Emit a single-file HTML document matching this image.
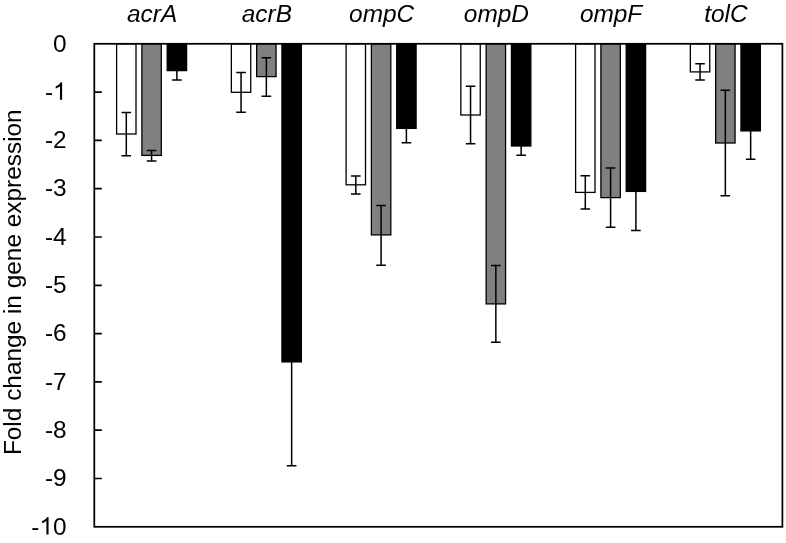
<!DOCTYPE html>
<html><head><meta charset="utf-8"><style>
html,body{margin:0;padding:0;background:#fff;}
svg{display:block;will-change:transform;}
text{font-family:"Liberation Sans",sans-serif;fill:#000;}
</style></head><body>
<svg width="786" height="543" viewBox="0 0 786 543">
<rect width="786" height="543" fill="#fff"/>
<rect x="116.60" y="43.80" width="19.40" height="90.20" fill="#ffffff" stroke="#000" stroke-width="1.3"/>
<rect x="141.90" y="43.80" width="19.40" height="111.60" fill="#808080" stroke="#000" stroke-width="1.3"/>
<rect x="167.20" y="43.80" width="19.40" height="26.80" fill="#000000" stroke="#000" stroke-width="1.3"/>
<rect x="231.35" y="43.80" width="19.40" height="48.50" fill="#ffffff" stroke="#000" stroke-width="1.3"/>
<rect x="256.65" y="43.80" width="19.40" height="32.80" fill="#808080" stroke="#000" stroke-width="1.3"/>
<rect x="281.95" y="43.80" width="19.40" height="318.10" fill="#000000" stroke="#000" stroke-width="1.3"/>
<rect x="346.10" y="43.80" width="19.40" height="141.00" fill="#ffffff" stroke="#000" stroke-width="1.3"/>
<rect x="371.40" y="43.80" width="19.40" height="191.10" fill="#808080" stroke="#000" stroke-width="1.3"/>
<rect x="396.70" y="43.80" width="19.40" height="84.60" fill="#000000" stroke="#000" stroke-width="1.3"/>
<rect x="460.85" y="43.80" width="19.40" height="71.20" fill="#ffffff" stroke="#000" stroke-width="1.3"/>
<rect x="486.15" y="43.80" width="19.40" height="260.10" fill="#808080" stroke="#000" stroke-width="1.3"/>
<rect x="511.45" y="43.80" width="19.40" height="102.20" fill="#000000" stroke="#000" stroke-width="1.3"/>
<rect x="575.60" y="43.80" width="19.40" height="148.60" fill="#ffffff" stroke="#000" stroke-width="1.3"/>
<rect x="600.90" y="43.80" width="19.40" height="153.80" fill="#808080" stroke="#000" stroke-width="1.3"/>
<rect x="626.20" y="43.80" width="19.40" height="147.60" fill="#000000" stroke="#000" stroke-width="1.3"/>
<rect x="690.35" y="43.80" width="19.40" height="28.10" fill="#ffffff" stroke="#000" stroke-width="1.3"/>
<rect x="715.65" y="43.80" width="19.40" height="99.20" fill="#808080" stroke="#000" stroke-width="1.3"/>
<rect x="740.95" y="43.80" width="19.40" height="87.10" fill="#000000" stroke="#000" stroke-width="1.3"/>
<path d="M126.30 112.60V155.80M121.50 112.60H131.10M121.50 155.80H131.10" stroke="#000" stroke-width="1.5" fill="none"/>
<path d="M151.60 150.60V160.90M146.80 150.60H156.40M146.80 160.90H156.40" stroke="#000" stroke-width="1.5" fill="none"/>
<path d="M176.90 61.30V79.90M172.10 61.30H181.70M172.10 79.90H181.70" stroke="#000" stroke-width="1.5" fill="none"/>
<path d="M241.05 72.56V112.20M236.25 72.56H245.85M236.25 112.20H245.85" stroke="#000" stroke-width="1.5" fill="none"/>
<path d="M266.35 57.70V96.20M261.55 57.70H271.15M261.55 96.20H271.15" stroke="#000" stroke-width="1.5" fill="none"/>
<path d="M291.65 257.95V465.85M286.85 257.95H296.45M286.85 465.85H296.45" stroke="#000" stroke-width="1.5" fill="none"/>
<path d="M355.80 175.95V194.05M351.00 175.95H360.60M351.00 194.05H360.60" stroke="#000" stroke-width="1.5" fill="none"/>
<path d="M381.10 205.60V265.30M376.30 205.60H385.90M376.30 265.30H385.90" stroke="#000" stroke-width="1.5" fill="none"/>
<path d="M406.40 113.95V142.85M401.60 113.95H411.20M401.60 142.85H411.20" stroke="#000" stroke-width="1.5" fill="none"/>
<path d="M470.55 86.30V143.70M465.75 86.30H475.35M465.75 143.70H475.35" stroke="#000" stroke-width="1.5" fill="none"/>
<path d="M495.85 265.60V342.20M491.05 265.60H500.65M491.05 342.20H500.65" stroke="#000" stroke-width="1.5" fill="none"/>
<path d="M521.15 136.80V155.20M516.35 136.80H525.95M516.35 155.20H525.95" stroke="#000" stroke-width="1.5" fill="none"/>
<path d="M585.30 175.85V208.95M580.50 175.85H590.10M580.50 208.95H590.10" stroke="#000" stroke-width="1.5" fill="none"/>
<path d="M610.60 167.90V227.30M605.80 167.90H615.40M605.80 227.30H615.40" stroke="#000" stroke-width="1.5" fill="none"/>
<path d="M635.90 152.30V230.50M631.10 152.30H640.70M631.10 230.50H640.70" stroke="#000" stroke-width="1.5" fill="none"/>
<path d="M700.05 63.85V79.95M695.25 63.85H704.85M695.25 79.95H704.85" stroke="#000" stroke-width="1.5" fill="none"/>
<path d="M725.35 90.20V195.75M720.55 90.20H730.15M720.55 195.75H730.15" stroke="#000" stroke-width="1.5" fill="none"/>
<path d="M750.65 102.50V159.30M745.85 102.50H755.45M745.85 159.30H755.45" stroke="#000" stroke-width="1.5" fill="none"/>
<rect x="94.3" y="43.8" width="688.10" height="483.00" fill="none" stroke="#000" stroke-width="1.75"/>
<path d="M94.30 92.10H101.80M94.30 140.40H101.80M94.30 188.70H101.80M94.30 237.00H101.80M94.30 285.30H101.80M94.30 333.60H101.80M94.30 381.90H101.80M94.30 430.20H101.80M94.30 478.50H101.80" stroke="#000" stroke-width="1.7" fill="none"/>
<text x="53.03" y="51.50" font-size="24.4">0</text>
<text x="44.90" y="99.80" font-size="24.4">-</text>
<path transform="translate(53.03,99.80) scale(0.011914,-0.011914)" d="M763 0H583V1147Q520 1088 440 1043Q350 986 223 938V1112Q420 1210 520 1300Q600 1370 646 1466H763Z"/>
<text x="44.90" y="148.10" font-size="24.4">-</text>
<text x="53.03" y="148.10" font-size="24.4">2</text>
<text x="44.90" y="196.40" font-size="24.4">-</text>
<text x="53.03" y="196.40" font-size="24.4">3</text>
<text x="44.90" y="244.70" font-size="24.4">-</text>
<text x="53.03" y="244.70" font-size="24.4">4</text>
<text x="44.90" y="293.00" font-size="24.4">-</text>
<text x="53.03" y="293.00" font-size="24.4">5</text>
<text x="44.90" y="341.30" font-size="24.4">-</text>
<text x="53.03" y="341.30" font-size="24.4">6</text>
<text x="44.90" y="389.60" font-size="24.4">-</text>
<text x="53.03" y="389.60" font-size="24.4">7</text>
<text x="44.90" y="437.90" font-size="24.4">-</text>
<text x="53.03" y="437.90" font-size="24.4">8</text>
<text x="44.90" y="486.20" font-size="24.4">-</text>
<text x="53.03" y="486.20" font-size="24.4">9</text>
<text x="31.33" y="534.50" font-size="24.4">-</text>
<path transform="translate(39.46,534.50) scale(0.011914,-0.011914)" d="M763 0H583V1147Q520 1088 440 1043Q350 986 223 938V1112Q420 1210 520 1300Q600 1370 646 1466H763Z"/>
<text x="53.03" y="534.50" font-size="24.4">0</text>
<text x="152.10" y="22.4" text-anchor="middle" font-size="24.4" font-style="italic">acrA</text>
<text x="266.85" y="22.4" text-anchor="middle" font-size="24.4" font-style="italic">acrB</text>
<text x="381.60" y="22.4" text-anchor="middle" font-size="24.4" font-style="italic">ompC</text>
<text x="496.35" y="22.4" text-anchor="middle" font-size="24.4" font-style="italic">ompD</text>
<text x="611.10" y="22.4" text-anchor="middle" font-size="24.4" font-style="italic">ompF</text>
<text x="725.85" y="22.4" text-anchor="middle" font-size="24.4" font-style="italic">tolC</text>
<text transform="translate(21,282.2) rotate(-90)" text-anchor="middle" font-size="24.4">Fold change in gene expression</text>
</svg>
</body></html>
